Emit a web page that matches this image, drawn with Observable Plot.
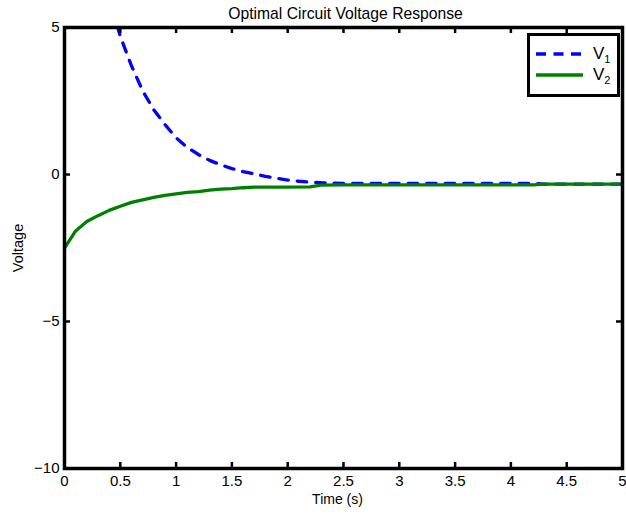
<!DOCTYPE html>
<html>
<head>
<meta charset="utf-8">
<script src="https://cdn.jsdelivr.net/npm/d3@7"></script>
<script src="https://cdn.jsdelivr.net/npm/@observablehq/plot@0.6"></script>
<style>
  body { margin: 0; background: #fff; font-family: "Liberation Sans", Arial, sans-serif; }
  #wrap { position: relative; width: 626px; height: 514px; }
  #legend { position: absolute; left: 527px; top: 33px; width: 87px; height: 58px;
    border: 3.5px solid #000; background: #fff; color: #000; }
  .row { position: absolute; left: 6px; height: 24px; width: 80px; }
  .row span { position: absolute; left: 57px; top: 0px; font-size: 17px; line-height: 20px; }
  .row sub { font-size: 11px; vertical-align: -4px; }
</style>
</head>
<body>
<div id="wrap"></div>
<script>
const title = "Optimal Circuit Voltage Response";
const xLabel = "Time (s)";
const yLabel = "Voltage";
const seriesNames = ["V1", "V2"];
const xTicks = [0, 0.5, 1, 1.5, 2, 2.5, 3, 3.5, 4, 4.5, 5];
const yTicks = [-10, -5, 0, 5];

const tV1 = [0, 0.1, 0.2, 0.3, 0.4, 0.5, 0.6, 0.7, 0.8, 0.9, 1.0, 1.1, 1.2, 1.3, 1.4, 1.5, 1.6, 1.7, 1.8, 1.9, 2.0, 2.1, 2.2, 2.3, 2.4, 2.5, 3.0, 3.5, 4.0, 4.2, 4.3, 4.5, 5.0];
const v1 = [15.6, 12.3, 9.7, 7.6, 6.0, 4.7, 3.7, 2.85, 2.2, 1.7, 1.25, 0.92, 0.68, 0.48, 0.33, 0.2, 0.1, 0.02, -0.06, -0.13, -0.19, -0.23, -0.26, -0.28, -0.29, -0.3, -0.3, -0.3, -0.3, -0.3, -0.33, -0.33, -0.33];

const tV2 = [0, 0.1, 0.2, 0.3, 0.4, 0.5, 0.6, 0.7, 0.8, 0.9, 1.0, 1.1, 1.2, 1.3, 1.4, 1.5, 1.6, 1.7, 2.0, 2.2, 2.3, 2.5, 3.0, 3.5, 4.0, 4.2, 4.3, 5.0];
const v2 = [-2.5, -1.92, -1.6, -1.4, -1.22, -1.08, -0.95, -0.86, -0.78, -0.71, -0.66, -0.61, -0.58, -0.53, -0.5, -0.48, -0.45, -0.43, -0.43, -0.42, -0.36, -0.35, -0.35, -0.35, -0.35, -0.35, -0.33, -0.33];

const d1 = tV1.map((t, i) => ({t, v: v1[i]}));
const d2 = tV2.map((t, i) => ({t, v: v2[i]}));

const W = 626, H = 514, mL = 64, mR = 4, mT = 27, mB = 46;
const fw = W - mL - mR, fh = H - mT - mB, tl = 6;
const fmt = d => d < 0 ? "\u2212" + (-d) : String(d);

const chart = Plot.plot({
  width: W, height: H,
  marginLeft: mL, marginRight: mR, marginTop: mT, marginBottom: mB,
  style: {fontFamily: "'Liberation Sans', Arial, sans-serif", fontSize: "15px", color: "#000", background: "#fff"},
  x: {domain: [0, 5]},
  y: {domain: [-10, 5]},
  marks: [
    Plot.line(d1, {x: "t", y: "v", stroke: "#0000ff", strokeWidth: 3.3, strokeDasharray: "9.5,9", clip: true}),
    Plot.line(d2, {x: "t", y: "v", stroke: "#008000", strokeWidth: 3.3, clip: true}),
    Plot.tickX(xTicks, {x: d => d, insetTop: fh - tl, stroke: "#000", strokeWidth: 2.5}),
    Plot.tickX(xTicks, {x: d => d, insetBottom: fh - tl, stroke: "#000", strokeWidth: 2.5}),
    Plot.tickY(yTicks, {y: d => d, insetRight: fw - tl, stroke: "#000", strokeWidth: 2.5}),
    Plot.tickY(yTicks, {y: d => d, insetLeft: fw - tl, stroke: "#000", strokeWidth: 2.5}),
    Plot.frame({stroke: "#000", strokeWidth: 3.5}),
    Plot.axisX(xTicks, {tickSize: 0, tickPadding: 7, tickFormat: fmt, label: null, fontSize: 15}),
    Plot.axisY(yTicks, {tickSize: 0, tickPadding: 5, tickFormat: fmt, label: null, fontSize: 15}),
    Plot.text([title], {frameAnchor: "top", lineAnchor: "middle", dy: -14, dx: 2, fontSize: 15.7}),
    Plot.text([xLabel], {frameAnchor: "bottom", lineAnchor: "middle", dy: 31, dx: -6, fontSize: 14}),
    Plot.text([yLabel], {frameAnchor: "left", textAnchor: "middle", lineAnchor: "middle", dx: -46, rotate: -90, fontSize: 14.5})
  ]
});

const wrap = document.getElementById("wrap");
wrap.appendChild(chart);

const legend = document.createElement("div");
legend.id = "legend";
const styles = [
  {stroke: "#0000ff", dash: "10,7.5"},
  {stroke: "#008000", dash: null}
];
seriesNames.forEach((name, i) => {
  const row = document.createElement("div");
  row.className = "row";
  row.style.top = (8 + i * 21) + "px";
  const svg = `<svg width="52" height="20" style="position:absolute;left:0;top:0"><line x1="0" x2="47" y1="10" y2="10" stroke="${styles[i].stroke}" stroke-width="3.3" ${styles[i].dash ? `stroke-dasharray="${styles[i].dash}"` : ""}/></svg>`;
  row.innerHTML = svg + `<span>${name[0]}<sub>${name.slice(1)}</sub></span>`;
  legend.appendChild(row);
});
wrap.appendChild(legend);
</script>
</body>
</html>
